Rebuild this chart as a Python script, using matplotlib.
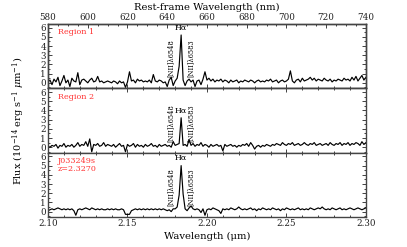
import numpy as np
import matplotlib
matplotlib.use("Agg")
import matplotlib.pyplot as plt
from matplotlib.ticker import MultipleLocator

plt.rcParams['font.family'] = ['DejaVu Serif']
plt.rcParams['mathtext.fontset'] = 'dejavuserif'

# Observed wavelength grid (micron)
wavelength = np.linspace(2.10, 2.30, 161)

flux_region1 = [
    0.1, 0.3, -0.2, 0.4, 0.1, 0.6, -0.3, 0.2, 0.8, 0.0,
    0.3, -0.4, 0.5, 0.2, 0.1, 1.1, -0.2, 0.3, 0.4, 0.2,
    0.0, 0.3, 0.5, 0.1, 0.2, 0.7, 0.1, 0.2, 0.0, 0.1,
    0.2, 0.1, 0.0, 0.2, 0.1, -0.1, 0.2, 0.0, 0.1, -0.5,
    0.1, 1.2, 0.2, 0.3, 0.0, 0.4, 0.2, 0.3, 0.1, 0.2,
    0.1, 0.3, 0.0, 0.9, 0.2, 0.1, 0.3, 0.2, 0.0, 0.1,
    -0.4, 0.3, 0.6, -0.3, 0.2, 0.5, 1.8, 5.2, 0.3, -0.3,
    0.2, 0.4, 0.1, 0.3, -0.4, 0.2, 0.3, -0.2, 0.4, 1.2,
    0.3, 0.5, 0.2, 0.4, 0.1, 0.3, 0.2, 0.4, 0.1, 0.3,
    0.2, 0.0, 0.3, 0.1, 0.2, 0.3, 0.0, 0.2, 0.1, 0.3,
    0.2, 0.1, 0.3, 0.2, 0.0, 0.2, 0.3, 0.1, 0.2, 0.1,
    0.3, 0.2, 0.4, 0.1, 0.2, 0.3, 0.0, 0.2, 0.3, 0.1,
    0.2, 0.4, 1.3, 0.2, 0.0, 0.3, 0.4, 0.1, 0.5, 0.2,
    0.3, 0.4, 0.6, 0.3, 0.5, 0.2, 0.4, 0.3, 0.2, 0.5,
    0.3, 0.2, 0.4, 0.1, 0.3, 0.2, 0.4, 0.3, 0.2, 0.5,
    0.3, 0.4, 0.2, 0.6, 0.3, 0.7, 0.2, 0.5, 0.8, 0.3, 0.6,
]

flux_region2 = [
    0.1, 0.0, 0.2, 0.1, 0.3, -0.1, 0.2, 0.1, 0.4, 0.0,
    0.2, 0.1, 0.3, 0.0, 0.2, 0.5, 0.1, 0.3, 0.2, 0.6,
    0.1, 0.9, -0.5, 0.3, 0.2, 0.4, 0.1, 0.2, 0.5, 0.1,
    0.3, 0.2, 0.1, 0.3, 0.0, 0.2, 0.4, 0.1, 0.2, -0.5,
    0.3, 0.1, 0.2, 0.4, 0.0, 0.3, 0.1, 0.2, 0.0, 0.3,
    0.1, 0.2, 0.4, 0.1, 0.2, 0.0, 0.3, 0.1, 0.2, 0.3,
    0.1, 0.2, 0.0, 0.6, 0.2, 0.3, 0.4, 3.2, 0.2, 0.3,
    0.1, 0.8, 0.2, 0.4, 0.1, 0.3, 0.2, 0.5, 0.1, 0.3,
    0.2, 0.0, 0.3, 0.1, 0.2, 0.3, 0.1, 0.2, -0.4, 0.3,
    0.1, 0.2, 0.3, 0.1, 0.2, 0.0, 0.2, 0.1, 0.3, 0.2,
    0.4, 0.1, 0.5, 0.2, -0.2, 0.1, 0.2, 0.0, 0.2, 0.1,
    0.3, 0.2, 0.1, 0.3, 0.2, 0.4, 0.3, 0.2, 0.5, 0.3,
    0.2, 0.4, 0.3, 0.5, 0.2, 0.3, 0.4, 0.2, 0.3, 0.5,
    0.3, 0.2, 0.4, 0.3, 0.5, 0.2, 0.3, 0.4, 0.2, 0.3,
    0.4, 0.2, 0.5, 0.3, 0.2, 0.4, 0.3, 0.5, 0.2, 0.4,
    0.3, 0.5, 0.2, 0.4, 0.3, 0.5, 0.4, 0.2, 0.6, 0.3, 0.5,
]

flux_total = [
    0.1, 0.2, 0.3, 0.2, 0.3, 0.4, 0.3, 0.2, 0.3, 0.2,
    0.3, 0.2, 0.3, 0.1, -0.4, 0.2, 0.3, 0.2, 0.3, 0.4,
    0.3, 0.2, 0.4, 0.3, 0.2, 0.3, 0.2, 0.3, 0.2, 0.2,
    0.3, 0.2, 0.3, 0.2, 0.3, 0.2, 0.2, 0.3, 0.2, -0.3,
    -0.3, -0.3, 0.1, 0.2, 0.3, 0.2, 0.3, 0.2, 0.3, 0.2,
    0.3, 0.2, 0.3, 0.2, 0.3, 0.2, 0.3, 0.2, 0.3, 0.2,
    0.1, 0.2, 0.0, 0.3, 0.3, 0.5, 1.8, 5.0, 1.9, 0.3,
    0.1, 0.4, 0.6, 0.3, 0.2, 0.3, 0.2, -0.1, 0.3, -0.4,
    0.2, 0.3, 0.2, 0.4, 0.3, 0.2, 0.1, -0.2, 0.3, 0.2,
    0.3, 0.2, 0.4, 0.3, 0.2, 0.3, 0.5, 0.3, 0.2, 0.3,
    0.2, 0.3, 0.4, 0.2, 0.3, 0.1, 0.3, 0.2, 0.4, 0.3,
    0.2, 0.3, 0.2, 0.4, 0.3, 0.2, 0.3, 0.1, 0.3, 0.2,
    0.4, 0.3, 0.2, 0.3, 0.2, 0.3, 0.4, 0.2, 0.3, 0.2,
    0.3, 0.2, 0.4, 0.3, 0.2, 0.3, 0.4, 0.3, 0.5, 0.3,
    0.2, 0.3, 0.2, 0.4, 0.3, 0.2, 0.3, 0.4, 0.2, 0.3,
    0.2, 0.3, 0.4, 0.3, 0.2, 0.3, 0.4, 0.3, 0.2, 0.3, 0.4,
]

panel_labels = ["Region 1", "Region 2", "J033249s\nz=2.3270"]
panel_fluxes = [flux_region1, flux_region2, flux_total]
halpha_label_y = [5.5, 3.5, 5.4]

line_names = ["[NII]λ6548", "Hα", "[NII]λ6583"]
line_obs = [2.1785, 2.18375, 2.1902]

rest_ticks = [580, 600, 620, 640, 660, 680, 700, 720, 740]

fig = plt.figure(figsize=(4.07, 2.47), dpi=100)
left, right, top, bottom = 0.118, 0.899, 0.903, 0.121
h = (top - bottom) / 3
axes = []
for k in range(3):
    ax = fig.add_axes([left, top - (k + 1) * h, right - left, h])
    axes.append(ax)

spine_col = '#444444'
for k, ax in enumerate(axes):
    ax.plot(wavelength, panel_fluxes[k], color='black', lw=0.85)
    ax.set_xlim(2.10, 2.30)
    ax.set_ylim(-0.6, 6.4)
    ax.yaxis.set_major_locator(MultipleLocator(1))
    ax.yaxis.set_minor_locator(MultipleLocator(0.5))
    ax.xaxis.set_major_locator(MultipleLocator(0.05))
    ax.xaxis.set_minor_locator(MultipleLocator(0.01))
    ax.tick_params(which='both', direction='in', top=(k != 0), right=True,
                   labelsize=6.3, pad=1.5, colors='#222222', width=0.6)
    ax.tick_params(which='major', length=3)
    ax.tick_params(which='minor', length=1.5)
    ax.set_yticks(range(0, 7))
    for s in ax.spines.values():
        s.set_color(spine_col)
        s.set_linewidth(1.0)
    if k < 2:
        ax.tick_params(labelbottom=False)
    else:
        ax.xaxis.set_major_formatter(matplotlib.ticker.FormatStrFormatter('%.2f'))
    ax.text(0.03, 0.93, panel_labels[k], transform=ax.transAxes, color='#ff3333',
            fontsize=5.8, va='top', ha='left', linespacing=1.0)
    # line labels
    ax.text(line_obs[0] - 0.0012, 0.6, line_names[0], rotation=90, fontsize=4.8,
            ha='center', va='bottom')
    ax.text(line_obs[2] - 0.0005, 0.6, line_names[2], rotation=90, fontsize=4.8,
            ha='center', va='bottom')
    ax.text(line_obs[1], halpha_label_y[k], line_names[1], fontsize=5.8,
            ha='center', va='bottom')

# top axis in rest-frame nm
axt = axes[0].twiny()
axt.set_xlim(rest_ticks[0], rest_ticks[-1])
axt.set_xticks(rest_ticks)
axt.xaxis.set_minor_locator(MultipleLocator(5))
axt.tick_params(which='both', direction='in', labelsize=6.3, pad=1.5, colors='#222222', width=0.6)
axt.tick_params(which='major', length=3)
axt.tick_params(which='minor', length=1.5)
axt.set_xlabel("Rest-frame Wavelength (nm)", fontsize=7.2, labelpad=2)
for s in axt.spines.values():
    s.set_color(spine_col)
    s.set_linewidth(1.0)

axes[2].set_xlabel("Wavelength (μm)", fontsize=7.2, labelpad=3)
fig.text(0.045, (top + bottom) / 2,
         "Flux (10$^{-14}$ erg s$^{-1}$ $\\mu$m$^{-1}$)",
         rotation=90, fontsize=7, ha='center', va='center')

fig.savefig("out.png", dpi=100)
